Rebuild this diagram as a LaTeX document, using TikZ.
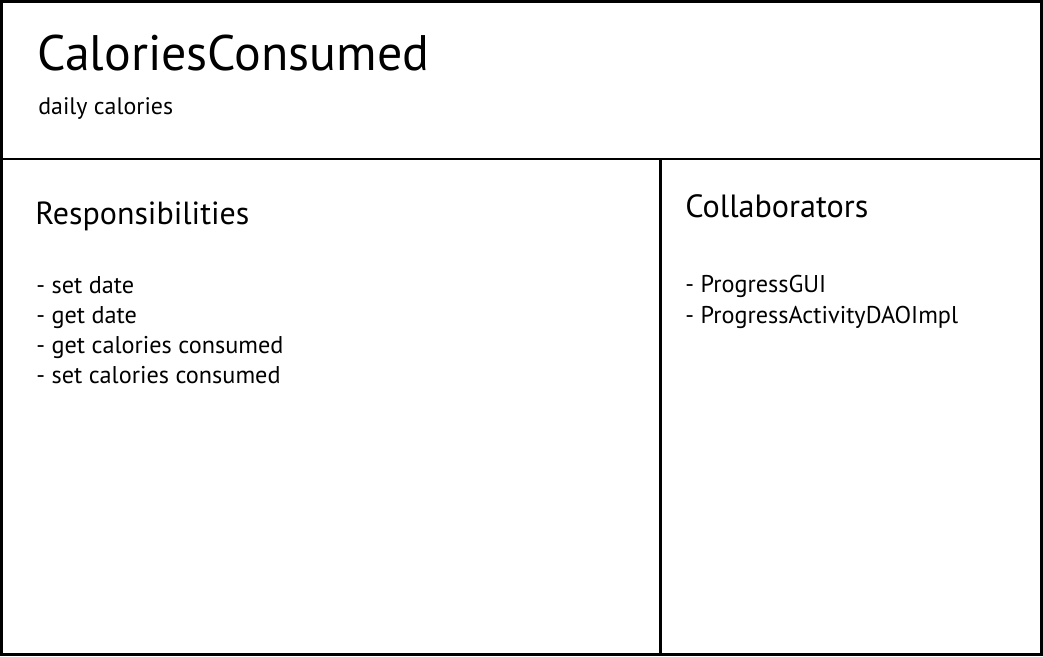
\documentclass[tikz,border=0pt]{standalone}
\usepackage{fontspec}
\setmainfont{PT Sans}
\usetikzlibrary{positioning}
\tikzset{
 cardline/.style={black,line width=1.7pt},
 cardtext/.style={anchor=base west,inner sep=0pt,text=black}
}

\begin{document}
\begin{tikzpicture}[line cap=rect,line join=miter]
 \useasboundingbox (0,0) rectangle (20.86,13.12);
 \fill[white] (0,0) rectangle (20.86,13.12);
 \draw[cardline] (0.03,0.03) rectangle (20.83,13.09);
 \draw[cardline] (0.03,9.94)--(20.83,9.94);
 \draw[cardline] (13.21,0.03)--(13.21,9.94);
 \node[cardtext,font=\fontsize{28.4}{34}\selectfont] (title) at (0.74,11.70) {CaloriesConsumed};
 \node[cardtext,font=\fontsize{13.6}{16}\selectfont] (attr) at (0.76,10.84) {daily calories};
 \node[cardtext,font=\fontsize{18.2}{22}\selectfont] (resp) at (0.70,8.64) {Responsibilities};
 \node[cardtext,font=\fontsize{13.8}{17}\selectfont] (resp1) at (0.72,7.26) {- set date};
 \node[cardtext,font=\fontsize{13.8}{17}\selectfont] (resp2) at (0.72,6.66) {- get date};
 \node[cardtext,font=\fontsize{13.8}{17}\selectfont] (resp3) at (0.72,6.06) {- get calories consumed};
 \node[cardtext,font=\fontsize{13.8}{17}\selectfont] (resp4) at (0.72,5.46) {- set calories consumed};
 \node[cardtext,font=\fontsize{18.3}{22}\selectfont] (collab) at (13.70,8.78) {Collaborators};
 \node[cardtext,font=\fontsize{13.8}{17}\selectfont] (collab1) at (13.70,7.28) {- ProgressGUI};
 \node[cardtext,font=\fontsize{13.8}{17}\selectfont] (collab2) at (13.70,6.66) {- ProgressActivityDAOImpl};
\end{tikzpicture}
\end{document}
